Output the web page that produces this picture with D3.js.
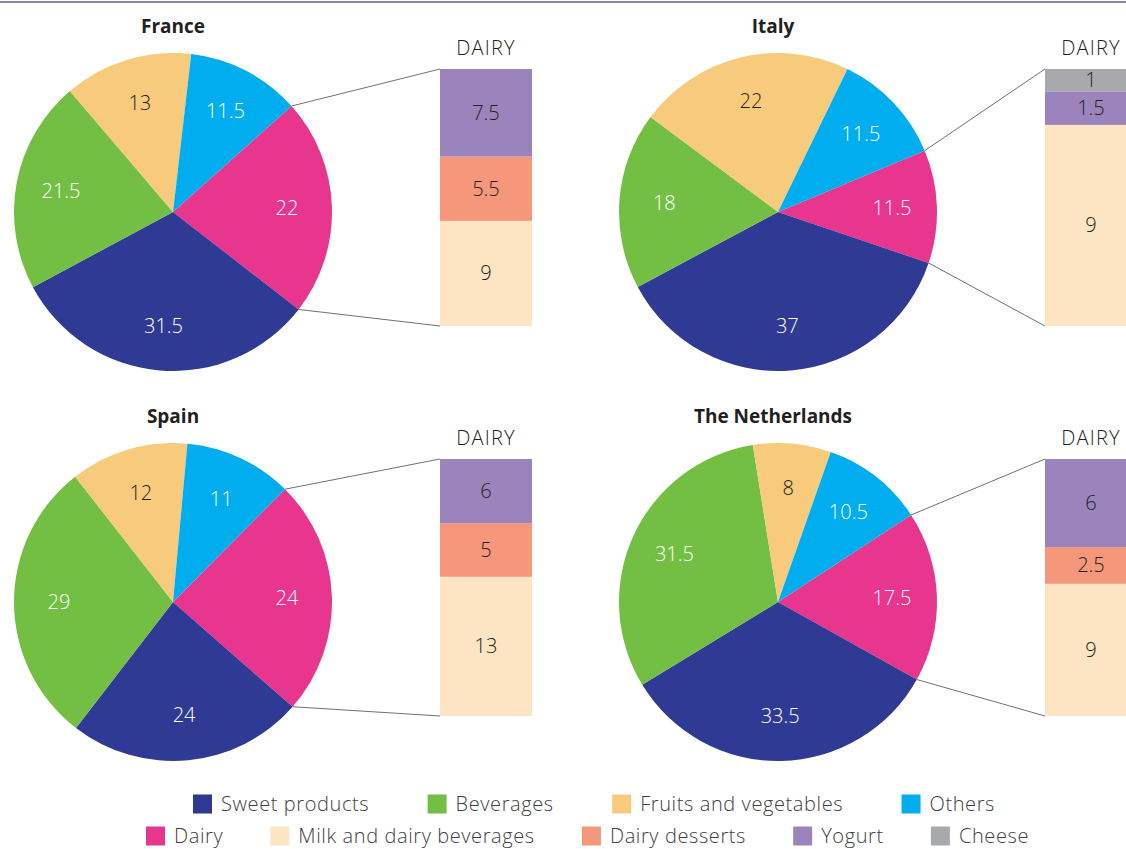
<!DOCTYPE html>
<html>
<head>
<meta charset="utf-8">
<script src="https://cdn.jsdelivr.net/npm/d3@7"></script>
<style>
body { margin: 0; background: #fff; }
svg { display: block; }
text { font-family: "Open Sans", sans-serif; fill: #231f20; }
</style>
</head>
<body>
<svg></svg>
<script>
// Data (percentages)
const countries = ["France", "Italy", "Spain", "The Netherlands"]
const categories = ["Sweet products", "Beverages", "Fruits and vegetables", "Others", "Dairy"]
const sweetValues = [31.5, 37, 24, 33.5]
const beverageValues = [21.5, 18, 29, 31.5]
const fruitValues = [13, 22, 12, 8]
const otherValues = [11.5, 11.5, 11, 10.5]
const dairyValues = [22, 11.5, 24, 17.5]

const dairyCategories = ["Milk and dairy beverages", "Dairy desserts", "Yogurt", "Cheese"]
const milkValues = [9, 9, 13, 9]
const dessertValues = [5.5, 0, 5, 2.5]
const yogurtValues = [7.5, 1.5, 6, 6]
const cheeseValues = [0, 1, 0, 0]

// Colors
const colors = {
    "Sweet products": "#2e3a93",
    "Beverages": "#72bf44",
    "Fruits and vegetables": "#f8cb7c",
    "Others": "#00aeef",
    "Dairy": "#e8368f",
    "Milk and dairy beverages": "#fde4c3",
    "Dairy desserts": "#f5977a",
    "Yogurt": "#9b84bb",
    "Cheese": "#a7a9ac"
}
const whiteLabels = ["Sweet products", "Beverages", "Others", "Dairy"]

// Svg size
const width = 1126
const height = 849

const svg = d3.select("svg")
    .attr("width", width)
    .attr("height", height)

// Panel layout
const colX = [0, 605]
const rowY = [0, 390]
const pieCx = 173, pieCy = 212, radius = 159
const barLeft = 440, barWidth = 92, barTop = 69, barBottom = 326
const dairyCenter = 88 * Math.PI / 180 // dairy slice faces the bar

// Top rule
svg.append("line")
    .attr("x1", 0).attr("x2", width)
    .attr("y1", 2).attr("y2", 2)
    .attr("stroke", "#5b5ea6")
    .attr("stroke-width", 1.5)

countries.forEach((country, i) => {
    const ox = colX[i % 2]
    const oy = rowY[Math.floor(i / 2)]
    const g = svg.append("g").attr("transform", `translate(${ox}, ${oy})`)

    // pie order clockwise starting with the dairy slice
    const slices = [
        { name: "Dairy", value: dairyValues[i] },
        { name: "Sweet products", value: sweetValues[i] },
        { name: "Beverages", value: beverageValues[i] },
        { name: "Fruits and vegetables", value: fruitValues[i] },
        { name: "Others", value: otherValues[i] }
    ]
    const total = d3.sum(slices, d => d.value)
    const dairyAngle = dairyValues[i] / total * 2 * Math.PI
    const start = dairyCenter - dairyAngle / 2

    const pie = d3.pie().sort(null).value(d => d.value)
        .startAngle(start).endAngle(start + 2 * Math.PI)
    const arcs = pie(slices)
    const arc = d3.arc().innerRadius(0).outerRadius(radius)
    const labelArc = d3.arc().innerRadius(114).outerRadius(114)

    const pieG = g.append("g").attr("transform", `translate(${pieCx}, ${pieCy})`)
    pieG.selectAll("path").data(arcs).enter()
        .append("path")
        .attr("d", arc)
        .attr("fill", d => colors[d.data.name])

    pieG.selectAll("text").data(arcs).enter()
        .append("text")
        .attr("transform", d => `translate(${labelArc.centroid(d)})`)
        .attr("text-anchor", "middle")
        .attr("dy", "0.35em")
        .attr("font-size", "20px")
        .attr("font-weight", 300)
        .style("fill", d => whiteLabels.includes(d.data.name) ? "#fff" : "#231f20")
        .text(d => d.data.value)

    // title
    g.append("text")
        .attr("x", pieCx - (i % 2) * 5)
        .attr("y", 33)
        .attr("text-anchor", "middle")
        .attr("font-size", "19px")
        .attr("font-weight", "bold")
        .text(country)

    // dairy breakdown bar
    const parts = [
        { name: "Milk and dairy beverages", value: milkValues[i] },
        { name: "Dairy desserts", value: dessertValues[i] },
        { name: "Yogurt", value: yogurtValues[i] },
        { name: "Cheese", value: cheeseValues[i] }
    ].filter(d => d.value > 0)
    let acc = 0
    parts.forEach(d => { d.y0 = acc; acc += d.value; d.y1 = acc })

    const yScale = d3.scaleLinear()
        .domain([0, acc])
        .range([barBottom, barTop])

    const barG = g.append("g")
    barG.selectAll("rect").data(parts).enter()
        .append("rect")
        .attr("x", barLeft)
        .attr("width", barWidth)
        .attr("y", d => yScale(d.y1))
        .attr("height", d => yScale(d.y0) - yScale(d.y1))
        .attr("fill", d => colors[d.name])

    barG.selectAll("text").data(parts).enter()
        .append("text")
        .attr("x", barLeft + barWidth / 2)
        .attr("y", d => (yScale(d.y0) + yScale(d.y1)) / 2)
        .attr("dy", "0.35em")
        .attr("text-anchor", "middle")
        .attr("font-size", "20px")
        .attr("font-weight", 300)
        .text(d => d.value)

    g.append("text")
        .attr("x", barLeft + barWidth / 2)
        .attr("y", 55)
        .attr("text-anchor", "middle")
        .attr("font-size", "20px")
        .attr("font-weight", 300)
        .attr("letter-spacing", "1.2px")
        .text("DAIRY")

    // connector lines from dairy slice edges to bar corners
    const edge = a => [pieCx + radius * Math.sin(a), pieCy - radius * Math.cos(a)]
    const dairyArc = arcs[0]
    const p1 = edge(dairyArc.startAngle)
    const p2 = edge(dairyArc.endAngle)
    g.append("line")
        .attr("x1", p1[0]).attr("y1", p1[1])
        .attr("x2", barLeft).attr("y2", yScale(acc))
        .attr("stroke", "#707070").attr("stroke-width", 1)
    g.append("line")
        .attr("x1", p2[0]).attr("y1", p2[1])
        .attr("x2", barLeft).attr("y2", yScale(0))
        .attr("stroke", "#707070").attr("stroke-width", 1)
})

// Legend, two rows spread across a span
const legendRows = [
    { items: categories.slice(0, 4), y: 804, from: 193, to: 995 },
    { items: ["Dairy"].concat(dairyCategories), y: 836, from: 146, to: 1029 }
]
const swatch = 19, swatchPad = 9

legendRows.forEach(row => {
    const rowG = svg.append("g")
    const items = row.items.map(name => {
        const t = rowG.append("text")
            .attr("font-size", "20px")
            .attr("font-weight", 300)
            .attr("letter-spacing", "0.6px")
            .attr("dy", "0.35em")
            .attr("y", row.y)
            .style("fill", "#414042")
            .text(name)
        return { name, t, w: swatch + swatchPad + t.node().getComputedTextLength() }
    })
    const used = d3.sum(items, d => d.w)
    const gap = (row.to - row.from - used) / (items.length - 1)
    let x = row.from
    items.forEach(d => {
        rowG.append("rect")
            .attr("x", x)
            .attr("y", row.y - swatch / 2)
            .attr("width", swatch)
            .attr("height", swatch)
            .attr("fill", colors[d.name])
        d.t.attr("x", x + swatch + swatchPad)
        x += d.w + gap
    })
})
</script>
</body>
</html>
